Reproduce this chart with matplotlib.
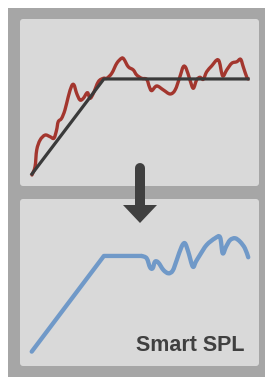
import matplotlib
matplotlib.use('Agg')
import matplotlib.pyplot as plt
from matplotlib.patches import Rectangle, FancyBboxPatch, Polygon, PathPatch
from matplotlib.path import Path

plt.rcParams['font.family'] = ['Liberation Sans', 'DejaVu Sans']

# Curvas (unidades do painel: 0-100)
measured_x = [5.0, 6.3, 7.0, 8.4, 10.5, 12.6, 14.2, 15.3, 16.0, 17.4, 18.8, 20.2,
              21.6, 22.6, 23.7, 25.1, 26.5, 28.2, 29.3, 30.7, 32.8, 34.9, 36.3,
              38.4, 40.5, 42.5, 43.5, 45.3, 47.4, 48.8, 50.9, 53.0, 54.1, 55.1,
              57.2, 60.0, 62.8, 64.9, 66.9, 68.3, 69.5, 71.1, 72.5, 73.9, 75.3,
              76.7, 78.1, 80.2, 82.3, 83.4, 84.8, 86.5, 88.6, 90.7, 92.3, 93.4,
              94.9, 95.5]
measured_y = [6.6, 11.6, 21.6, 27.5, 30.5, 29.5, 28.6, 33.5, 38.5, 40.5, 45.5, 53.5,
              59.9, 60.5, 55.5, 51.5, 52.5, 55.9, 52.5, 55.5, 62.5, 64.5, 64.5,
              67.5, 73.5, 76.5, 75.9, 71.4, 69.5, 66.5, 64.5, 63.9, 59.5, 57.1,
              59.9, 57.5, 55.1, 57.5, 65.4, 71.4, 70.5, 63.5, 58.5, 63.5, 65.1,
              63.9, 68.4, 71.9, 75.4, 74.4, 65.9, 69.5, 73.5, 74.4, 75.9, 71.4,
              65.1, 64.1]

target_x = [5.0, 35.1, 95.4]
target_y = [7.2, 64.1, 64.1]

smart_x = [4.9, 35.1, 50.9, 53.0, 54.4, 55.5, 56.5, 57.9, 60.0, 62.1, 63.9, 65.6,
           67.6, 69.0, 70.4, 72.3, 73.6, 75.3, 78.1, 81.6, 83.7, 84.8, 86.2,
           87.9, 90.0, 92.1, 94.1, 95.5]
smart_y = [8.6, 65.9, 65.9, 64.5, 59.1, 58.5, 62.5, 61.9, 57.5, 55.5, 57.1, 63.5,
           71.4, 73.5, 68.4, 59.5, 62.5, 66.5, 72.5, 76.5, 77.1, 67.5, 71.4,
           75.4, 76.5, 74.4, 70.5, 65.1]

label = 'Smart SPL'

W, H = 265, 377
fig = plt.figure(figsize=(W / 100, H / 100), dpi=100)

# fundo em pixels
bg = fig.add_axes([0, 0, 1, 1])
bg.set_xlim(0, W)
bg.set_ylim(H, 0)
bg.axis('off')
bg.add_patch(Rectangle((8, 8), W, H, color='#a6a6a6', lw=0))
for top, bottom in [(19, 186), (199, 366)]:
    bg.add_patch(FancyBboxPatch((20, top), 239, bottom - top,
                                boxstyle='round,pad=0,rounding_size=3',
                                fc='#d9d9d9', ec='none'))


def panel(top, bottom):
    ax = fig.add_axes([20 / W, 1 - bottom / H, 239 / W, (bottom - top) / H])
    ax.set_xlim(0, 100)
    ax.set_ylim(0, 100)
    ax.axis('off')
    ax.patch.set_alpha(0)
    return ax


def smooth_line(ax, xs, ys, **kw):
    # curva suave (catmull-rom -> bezier) passando pelos pontos
    pts = list(zip(xs, ys))
    verts = [pts[0]]
    codes = [Path.MOVETO]
    n = len(pts)
    for i in range(n - 1):
        p0 = pts[i - 1] if i > 0 else pts[i]
        p1, p2 = pts[i], pts[i + 1]
        p3 = pts[i + 2] if i + 2 < n else p2
        c1 = (p1[0] + (p2[0] - p0[0]) / 6, p1[1] + (p2[1] - p0[1]) / 6)
        c2 = (p2[0] - (p3[0] - p1[0]) / 6, p2[1] - (p3[1] - p1[1]) / 6)
        verts += [c1, c2, p2]
        codes += [Path.CURVE4] * 3
    ax.add_patch(PathPatch(Path(verts, codes), fill=False,
                           capstyle='round', joinstyle='round', **kw))


ax1 = panel(19, 186)
ax1.plot(target_x, target_y, color='#3a3a3a', lw=2.3, solid_joinstyle='round')
smooth_line(ax1, measured_x, measured_y, ec='#a3362e', lw=2.4)

ax2 = panel(199, 366)
ax2.plot(smart_x[:3], smart_y[:3], color='#7099c8', lw=3.1,
         solid_joinstyle='round', solid_capstyle='round')
smooth_line(ax2, smart_x[2:], smart_y[2:], ec='#7099c8', lw=3.1)
ax2.text(94.1, 8.7, label, ha='right', va='baseline', fontsize=15.5,
         fontweight='bold', color='#404040')

# seta
ov = fig.add_axes([0, 0, 1, 1])
ov.set_xlim(0, W)
ov.set_ylim(H, 0)
ov.axis('off')
ov.patch.set_alpha(0)
ov.plot([140, 140], [168, 206], color='#404040', lw=7.2, solid_capstyle='round')
ov.add_patch(Polygon([(123, 205), (157, 205), (140, 223)], closed=True,
                     fc='#404040', ec='none'))

fig.savefig('out.png', dpi=100)
